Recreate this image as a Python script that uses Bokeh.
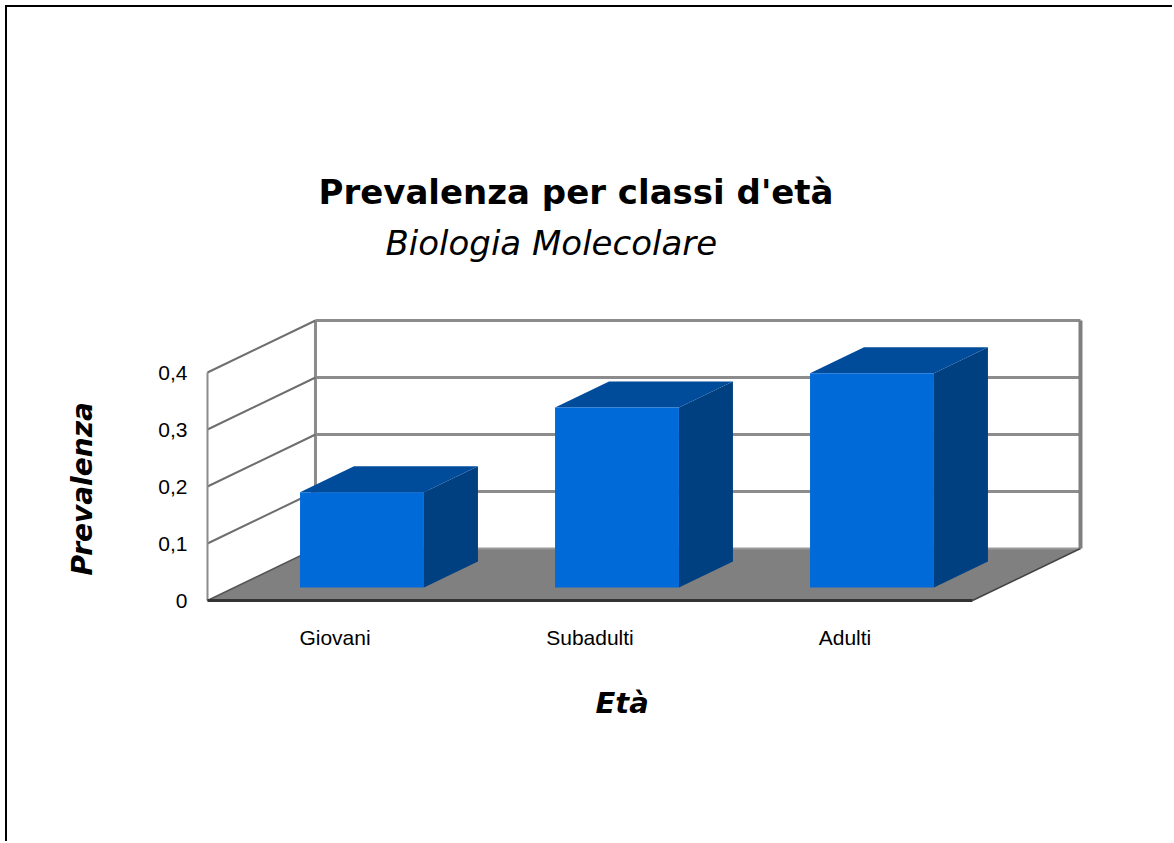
import math
from bokeh.plotting import figure
from bokeh.models import Range1d, FixedTicker, Title
from bokeh.embed import file_html
from bokeh.resources import INLINE

# ---------------- data ----------------
categories = ["Giovani", "Subadulti", "Adulti"]
prevalenza = [0.167, 0.316, 0.376]
y_ticks = [0.0, 0.1, 0.2, 0.3, 0.4]
y_tick_labels = ["0", "0,1", "0,2", "0,3", "0,4"]

title_text = "Prevalenza per classi d'età"
subtitle_text = "Biologia Molecolare"
x_title = "Età"
y_title = "Prevalenza"

# ---------------- projection / style constants ----------------
DX, DY = 0.4235, 0.0912          # full depth offset (data units)
BAR_W = 0.486                    # bar width (category units)
D_FRONT, D_BACK = 0.25, 0.75     # bar depth placement (fraction of full depth)
PX_X, PX_Y = 255.0, 570.0        # pixels per data unit

FRONT = "#006ad8"
SIDE = "#003f80"
TOP = "#004b9a"
GRID = "#8c8c8c"

n = len(categories)
ymax = y_ticks[-1]

W, H = 1167, 836
FL, FT, FR, FB = 193, 293, 1093, 603   # frame box in canvas pixels

x_start = -7 / PX_X
y_start = -10 / PX_Y
p = figure(width=W, height=H,
           x_range=Range1d(x_start, x_start + (FR - FL) / PX_X),
           y_range=Range1d(y_start, y_start + (FB - FT) / PX_Y),
           output_backend="svg", toolbar_location=None,
           min_border_left=FL, min_border_top=FT,
           min_border_right=W - FR, min_border_bottom=H - FB,
           margin=(5, 0, 0, 5))
p.styles = {"border-top": "2px solid black", "border-left": "2px solid black"}
p.outline_line_color = None
p.xgrid.visible = False
p.ygrid.visible = False
p.background_fill_color = "white"
p.border_fill_color = "white"

# ---------------- walls ----------------
grid_vals = y_ticks[1:]
p.segment(x0=[DX] * len(grid_vals), y0=[v + DY for v in grid_vals],
          x1=[n + DX] * len(grid_vals), y1=[v + DY for v in grid_vals],
          line_color=GRID, line_width=3)
p.segment(x0=[DX], y0=[DY], x1=[DX], y1=[ymax + DY], line_color=GRID, line_width=3)
p.segment(x0=[0] * len(grid_vals), y0=grid_vals,
          x1=[DX] * len(grid_vals), y1=[v + DY for v in grid_vals],
          line_color="#6e6e6e", line_width=2)
p.segment(x0=[0], y0=[0], x1=[0], y1=[ymax], line_color=GRID, line_width=2)

# floor
p.patch(x=[0, n, n + DX, DX], y=[0, 0, DY, DY], fill_color="#808080", line_color=None)
p.segment(x0=[DX], y0=[DY], x1=[n + DX], y1=[DY], line_color="#9a9a9a", line_width=2)
p.segment(x0=[0], y0=[0], x1=[DX], y1=[DY], line_color="#555555", line_width=1.5)
p.segment(x0=[n], y0=[0], x1=[n + DX], y1=[DY], line_color="#444444", line_width=1.5)
p.segment(x0=[0], y0=[0], x1=[n], y1=[0], line_color="#333333", line_width=3)
p.segment(x0=[n + DX], y0=[DY], x1=[n + DX], y1=[ymax + DY], line_color="#7f7f7f", line_width=4)

# ---------------- bars ----------------
fx, fy = D_FRONT * DX, D_FRONT * DY
sx, sy = (D_BACK - D_FRONT) * DX, (D_BACK - D_FRONT) * DY
lefts = [i + 0.5 - BAR_W / 2 + fx for i in range(n)]
rights = [i + 0.5 + BAR_W / 2 + fx for i in range(n)]
bottoms = [fy] * n
tops = [v + fy for v in prevalenza]

side_xs = [[r, r + sx, r + sx, r] for r in rights]
side_ys = [[b, b + sy, t + sy, t] for b, t in zip(bottoms, tops)]
top_xs = [[l, r, r + sx, l + sx] for l, r in zip(lefts, rights)]
top_ys = [[t, t, t + sy, t + sy] for t in tops]

p.patches(xs=side_xs, ys=side_ys, fill_color=SIDE, line_color=None)
p.patches(xs=top_xs, ys=top_ys, fill_color=TOP, line_color=None)
p.quad(left=lefts, right=rights, bottom=bottoms, top=tops, fill_color=FRONT, line_color=None)

# ---------------- axes ----------------
p.xaxis.ticker = FixedTicker(ticks=[i + 0.5 for i in range(n)])
p.xaxis.major_label_overrides = {i + 0.5: c for i, c in enumerate(categories)}
p.xaxis.axis_line_color = None
p.xaxis.major_tick_line_color = None
p.xaxis.minor_tick_line_color = None
p.xaxis.major_tick_out = 0
p.xaxis.major_tick_in = 0
p.xaxis.major_label_standoff = 15
p.xaxis.major_label_text_font = "Liberation Sans"
p.xaxis.major_label_text_font_size = "21px"
p.xaxis.major_label_text_color = "black"

p.yaxis.ticker = FixedTicker(ticks=y_ticks)
p.yaxis.major_label_overrides = {v: s for v, s in zip(y_ticks, y_tick_labels)}
p.yaxis.axis_line_color = None
p.yaxis.major_tick_line_color = None
p.yaxis.minor_tick_line_color = None
p.yaxis.major_tick_out = 0
p.yaxis.major_tick_in = 0
p.yaxis.major_label_standoff = 13
p.yaxis.major_label_text_font = "Liberation Sans"
p.yaxis.major_label_text_font_size = "21px"
p.yaxis.major_label_text_color = "black"

# ---------------- titles ----------------
p.title.text = title_text
p.title.align = "left"
p.title.offset = 118
try:
    p.title.standoff = -58
except Exception:
    p.title.standoff = 0
p.title.text_font = "DejaVu Sans"
p.title.text_font_style = "bold"
p.title.text_font_size = "34px"
p.title.text_color = "black"

p.add_layout(Title(text=subtitle_text, align="left", offset=185, standoff=76,
                   text_font="DejaVu Sans", text_font_style="italic",
                   text_font_size="34px", text_color="black"), "above")
p.add_layout(Title(text=y_title, align="left", offset=35, standoff=113,
                   text_font="DejaVu Sans", text_font_style="bold italic",
                   text_font_size="28px", text_color="black"), "left")
p.add_layout(Title(text=x_title, align="left", offset=395, standoff=65,
                   text_font="DejaVu Sans", text_font_style="bold italic",
                   text_font_size="29px", text_color="black"), "below")

open("out.html", "w").write(file_html(p, INLINE))
